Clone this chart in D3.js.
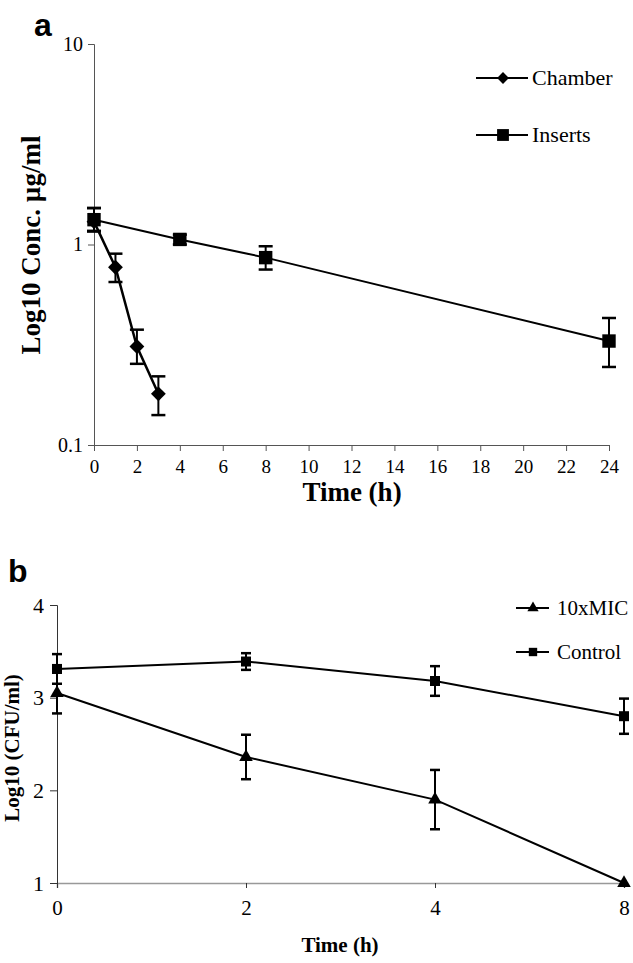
<!DOCTYPE html>
<html>
<head>
<meta charset="utf-8">
<script src="https://cdn.jsdelivr.net/npm/d3@7"></script>
<style>
  body { margin: 0; background: #fff; }
  svg { display: block; }
  svg text { font-family: 'Times New Roman', 'Liberation Serif', 'DejaVu Serif', serif; font-weight: normal; }
  svg text.bold { font-weight: bold; }
  svg text.panel { font-family: 'Liberation Sans', Arial, sans-serif; font-weight: bold; }
</style>
</head>
<body>
<script>
// panel a data
var timesA = [0, 1, 2, 3];
var chamber = [1.30, 0.77, 0.31, 0.18];
var chamberLo = [1.16, 0.65, 0.254, 0.141];
var chamberHi = [1.52, 0.90, 0.376, 0.22];

var timesInserts = [0, 4, 8, 24];
var inserts = [1.33, 1.06, 0.86, 0.33];
var insertsLo = [1.17, 1.0, 0.75, 0.245];
var insertsHi = [1.52, 1.12, 0.98, 0.43];

var xTicksA = [0, 2, 4, 6, 8, 10, 12, 14, 16, 18, 20, 22, 24];
var yTicksA = [0.1, 1, 10];

// panel b data
var timesB = ["0", "2", "4", "8"];
var mic10 = [3.05, 2.36, 1.90, 1.0];
var mic10Err = [0.22, 0.24, 0.32, 0];
var control = [3.31, 3.39, 3.18, 2.80];
var controlErr = [0.16, 0.09, 0.16, 0.19];
var yTicksB = [1, 2, 3, 4];

var svg = d3.select("body").append("svg")
  .attr("width", 633)
  .attr("height", 963);

// ---------- panel a ----------
var xA = d3.scaleLinear().domain([0, 24]).range([94, 609]);
var yA = d3.scaleLog().domain([0.1, 10]).range([445, 44]);

var gA = svg.append("g");

gA.append("g")
  .attr("transform", "translate(0,445)")
  .call(d3.axisBottom(xA).tickValues(xTicksA).tickSize(6).tickPadding(9))
  .call(function(g) {
    g.select(".domain").attr("stroke", "#555");
    g.selectAll(".tick line").attr("stroke", "#555");
    g.selectAll(".tick text").attr("font-size", 19);
  });

gA.append("g")
  .attr("transform", "translate(94,0)")
  .call(d3.axisLeft(yA).tickValues(yTicksA).tickFormat(d3.format("")).tickSize(6).tickPadding(5))
  .call(function(g) {
    g.select(".domain").attr("stroke", "#555");
    g.selectAll(".tick line").attr("stroke", "#555");
    g.selectAll(".tick text").attr("font-size", 20);
  });

gA.append("text").attr("class", "bold")
  .attr("x", 352).attr("y", 501)
  .attr("text-anchor", "middle")
  .attr("font-size", 27)
  .text("Time (h)");

gA.append("text").attr("class", "bold")
  .attr("transform", "translate(40,245) rotate(-90)")
  .attr("text-anchor", "middle")
  .attr("font-size", 27)
  .text("Log10 Conc. µg/ml");

gA.append("text").attr("class", "panel")
  .attr("x", 34).attr("y", 36)
  .attr("font-size", 32)
  .text("a");

function errBars(g, xs, ys, lo, hi, cap) {
  xs.forEach(function(xv, i) {
    var x = xv, y1 = ys(lo[i]), y2 = ys(hi[i]);
    if (Math.abs(y1 - y2) < 1) return;
    g.append("line").attr("x1", x).attr("x2", x).attr("y1", y1).attr("y2", y2)
      .attr("stroke", "#000").attr("stroke-width", 2);
    [y1, y2].forEach(function(yy) {
      g.append("line").attr("x1", x - cap).attr("x2", x + cap).attr("y1", yy).attr("y2", yy)
        .attr("stroke", "#000").attr("stroke-width", 2.5);
    });
  });
}

var lineA = d3.line();

// inserts
gA.append("path")
  .attr("d", lineA(timesInserts.map(function(t, i) { return [xA(t), yA(inserts[i])]; })))
  .attr("fill", "none").attr("stroke", "#000").attr("stroke-width", 2);
errBars(gA, timesInserts.map(xA), yA, insertsLo, insertsHi, 7);
gA.selectAll(".sqA").data(timesInserts).enter().append("path")
  .attr("transform", function(t, i) { return "translate(" + xA(t) + "," + yA(inserts[i]) + ")"; })
  .attr("d", d3.symbol(d3.symbolSquare, 180))
  .attr("fill", "#000");

// chamber
gA.append("path")
  .attr("d", lineA(timesA.map(function(t, i) { return [xA(t), yA(chamber[i])]; })))
  .attr("fill", "none").attr("stroke", "#000").attr("stroke-width", 2.5);
errBars(gA, timesA.map(xA), yA, chamberLo, chamberHi, 7);
gA.selectAll(".dmA").data(timesA).enter().append("path")
  .attr("transform", function(t, i) { return "translate(" + xA(t) + "," + yA(chamber[i]) + ") rotate(45)"; })
  .attr("d", d3.symbol(d3.symbolSquare, 110))
  .attr("fill", "#000");

// legend a
var legA = [
  { name: "Chamber", y: 78, sym: "diamond" },
  { name: "Inserts", y: 135, sym: "square" }
];
legA.forEach(function(d) {
  gA.append("line").attr("x1", 476).attr("x2", 528).attr("y1", d.y).attr("y2", d.y)
    .attr("stroke", "#000").attr("stroke-width", 2);
  gA.append("path")
    .attr("transform", "translate(503," + d.y + ")" + (d.sym === "diamond" ? " rotate(45)" : ""))
    .attr("d", d3.symbol(d3.symbolSquare, d.sym === "diamond" ? 70 : 140))
    .attr("fill", "#000");
  gA.append("text").attr("x", 532).attr("y", d.y + 7)
    .attr("font-size", 22)
    .text(d.name);
});

// ---------- panel b ----------
var xB = d3.scalePoint().domain(timesB).range([57, 624]).padding(0);
var yB = d3.scaleLinear().domain([1, 4]).range([883, 605]);

var gB = svg.append("g");

gB.append("g")
  .attr("transform", "translate(0,883)")
  .call(d3.axisBottom(xB).tickSize(5).tickPadding(12))
  .call(function(g) {
    g.select(".domain").attr("stroke", "#999").attr("stroke-width", 1.5);
    g.selectAll(".tick line").attr("stroke", "#333");
    g.selectAll(".tick text").attr("font-size", 21);
  });

gB.append("g")
  .attr("transform", "translate(57,0)")
  .call(d3.axisLeft(yB).tickValues(yTicksB).tickFormat(d3.format("d")).tickSize(7).tickPadding(6))
  .call(function(g) {
    g.select(".domain").attr("stroke", "#333");
    g.selectAll(".tick line").attr("stroke", "#333");
    g.selectAll(".tick text").attr("font-size", 22);
  });

gB.append("text").attr("class", "bold")
  .attr("x", 340).attr("y", 952)
  .attr("text-anchor", "middle")
  .attr("font-size", 21)
  .text("Time (h)");

gB.append("text").attr("class", "bold")
  .attr("transform", "translate(19,748) rotate(-90)")
  .attr("text-anchor", "middle")
  .attr("font-size", 21)
  .text("Log10 (CFU/ml)");

gB.append("text").attr("class", "panel")
  .attr("x", 8).attr("y", 582)
  .attr("font-size", 32)
  .text("b");

function lo(v, e) { return v.map(function(d, i) { return d - e[i]; }); }
function hi(v, e) { return v.map(function(d, i) { return d + e[i]; }); }

// control
gB.append("path")
  .attr("d", d3.line()(timesB.map(function(t, i) { return [xB(t), yB(control[i])]; })))
  .attr("fill", "none").attr("stroke", "#000").attr("stroke-width", 2);
errBars(gB, timesB.map(xB), yB, lo(control, controlErr), hi(control, controlErr), 5);
gB.selectAll(".sqB").data(timesB).enter().append("path")
  .attr("transform", function(t, i) { return "translate(" + xB(t) + "," + yB(control[i]) + ")"; })
  .attr("d", d3.symbol(d3.symbolSquare, 100))
  .attr("fill", "#000");

// 10xMIC
gB.append("path")
  .attr("d", d3.line()(timesB.map(function(t, i) { return [xB(t), yB(mic10[i])]; })))
  .attr("fill", "none").attr("stroke", "#000").attr("stroke-width", 2);
errBars(gB, timesB.map(xB), yB, lo(mic10, mic10Err), hi(mic10, mic10Err), 5);
gB.selectAll(".trB").data(timesB).enter().append("path")
  .attr("transform", function(t, i) { return "translate(" + xB(t) + "," + yB(mic10[i]) + ")"; })
  .attr("d", d3.symbol(d3.symbolTriangle, 80))
  .attr("fill", "#000");

// legend b
var legB = [
  { name: "10xMIC", y: 608, sym: d3.symbolTriangle, size: 55 },
  { name: "Control", y: 652, sym: d3.symbolSquare, size: 70 }
];
legB.forEach(function(d) {
  gB.append("line").attr("x1", 516).attr("x2", 549).attr("y1", d.y).attr("y2", d.y)
    .attr("stroke", "#000").attr("stroke-width", 2);
  gB.append("path")
    .attr("transform", "translate(533," + d.y + ")")
    .attr("d", d3.symbol(d.sym, d.size))
    .attr("fill", "#000");
  gB.append("text").attr("x", 557).attr("y", d.y + 7)
    .attr("font-size", 21)
    .text(d.name);
});
</script>
</body>
</html>
